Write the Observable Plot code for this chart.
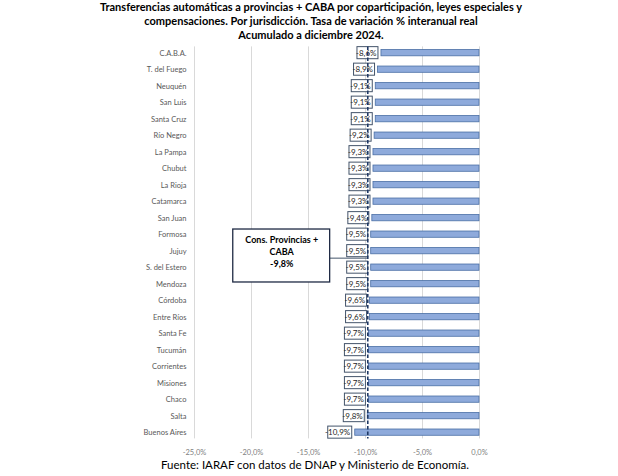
<!DOCTYPE html>
<html>
<head>
<meta charset="utf-8">
<script src="https://cdn.jsdelivr.net/npm/d3@7"></script>
<script src="https://cdn.jsdelivr.net/npm/@observablehq/plot@0.6"></script>
<style>
  body { margin: 0; background: #fff; width: 618px; overflow: hidden; }
  #title { font-family: Lato, "Open Sans", sans-serif; font-weight: bold; font-size: 11px; line-height: 14px; text-align: center; color: #000; height: 42px; padding-left: 4px; white-space: nowrap; }
  #caption { font-family: Lato, "Open Sans", sans-serif; font-size: 11.5px; line-height: 14px; text-align: center; color: #000; padding-left: 12px; }
  svg { display: block; }
</style>
</head>
<body>
<div id="title">Transferencias automáticas a provincias + CABA por coparticipación, leyes especiales y<br>compensaciones. Por jurisdicción. Tasa de variación % interanual real<br>Acumulado a diciembre 2024.</div>
<div id="chart"></div>
<div id="caption">Fuente: IARAF con datos de DNAP y Ministerio de Economía.</div>
<script>
const categories = ["C.A.B.A.", "T. del Fuego", "Neuquén", "San Luis", "Santa Cruz", "Río Negro", "La Pampa", "Chubut", "La Rioja", "Catamarca", "San Juan", "Formosa", "Jujuy", "S. del Estero", "Mendoza", "Córdoba", "Entre Ríos", "Santa Fe", "Tucumán", "Corrientes", "Misiones", "Chaco", "Salta", "Buenos Aires"];
const values = [-8.6, -8.9, -9.1, -9.1, -9.1, -9.2, -9.3, -9.3, -9.3, -9.3, -9.4, -9.5, -9.5, -9.5, -9.5, -9.6, -9.6, -9.7, -9.7, -9.7, -9.7, -9.7, -9.8, -10.9];
const xTicks = [-25, -20, -15, -10, -5, 0];
const average = -9.8;
const averageLabel = "Cons. Provincias +\nCABA\n-9,8%";
const calloutRow = "Jujuy";
const calloutX = [-21.6, -13.1];

const fmt = d => d.toFixed(1).replace(".", ",") + "%";
const data = categories.map((c, i) => ({c, v: values[i], label: fmt(values[i])}));
const narrow = data.filter(d => d.label.length <= 5);
const wide = data.filter(d => d.label.length > 5);
const font = "Lato, 'Open Sans', sans-serif";

const boxStyle = {x1: "v", x2: "v", y: "c", insetRight: 3, insetTop: -2.9, insetBottom: -2.9, fill: "white", stroke: "#44546a", strokeWidth: 1};

const chart = Plot.plot({
  width: 618,
  height: 416,
  marginLeft: 194,
  marginRight: 139,
  marginTop: 4.4,
  marginBottom: 19.6,
  style: {fontFamily: font, background: "white"},
  x: {domain: [-25, 0]},
  y: {domain: categories, paddingInner: 0.62, paddingOuter: 0.19, round: false},
  marks: [
    Plot.ruleX(xTicks, {stroke: "#d9d9d9", strokeWidth: 1}),
    Plot.axisX({ticks: xTicks, tickFormat: fmt, tickSize: 0, tickPadding: 11, fontSize: 7.5, color: "#7f7f7f", label: null}),
    Plot.axisY({tickSize: 0, tickPadding: 8, fontSize: 7.5, color: "#595959", label: null}),
    Plot.barX(data, {x1: 0, x2: "v", y: "c", fill: "#8eaadb", stroke: "#4a6fa5", strokeWidth: 0.8}),
    Plot.barX(narrow, {...boxStyle, insetLeft: -24}),
    Plot.barX(wide, {...boxStyle, insetLeft: -27}),
    Plot.text(data, {x: "v", y: "c", text: "label", textAnchor: "end", dx: -5, fontSize: 8, fill: "#262626"}),
    Plot.ruleX([average], {stroke: "#1f3864", strokeWidth: 1.6, strokeDasharray: "3.5,2"}),
    Plot.ruleY([calloutRow], {x1: calloutX[1], x2: average, dy: 7, stroke: "#44546a", strokeWidth: 1}),
    Plot.barX([calloutRow], {y: d => d, x1: calloutX[0], x2: calloutX[1], insetTop: -18.5, insetBottom: -28.2, fill: "white", stroke: "#1f2a44", strokeWidth: 1.3}),
    Plot.text([averageLabel], {x: (calloutX[0] + calloutX[1]) / 2, y: () => calloutRow, text: d => d, fontSize: 9, fontWeight: "bold", lineHeight: 1.33, fill: "#000"})
  ]
});
document.getElementById("chart").append(chart);
</script>
</body>
</html>
